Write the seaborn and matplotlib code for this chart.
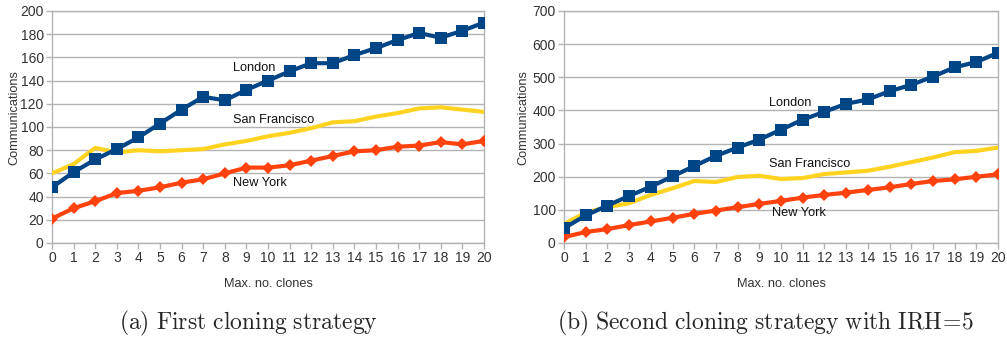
import numpy as np
import pandas as pd
import matplotlib
matplotlib.use("Agg")
import matplotlib.pyplot as plt
import seaborn as sns

clones = list(range(21))
x_ticks = [str(i) for i in clones]

london_a = [48, 61, 72, 81, 91, 103, 115, 126, 123, 132, 140, 148, 155, 155, 162, 168, 175, 181, 177, 183, 190]
sf_a = [60, 68, 82, 78, 80, 79, 80, 81, 85, 88, 92, 95, 99, 104, 105, 109, 112, 116, 117, 115, 113]
ny_a = [21, 30, 36, 43, 45, 48, 52, 55, 60, 65, 65, 67, 71, 75, 79, 80, 83, 84, 87, 85, 88]

london_b = [45, 83, 113, 142, 170, 201, 232, 263, 288, 312, 342, 372, 396, 420, 433, 458, 477, 502, 530, 546, 574]
sf_b = [57, 92, 108, 120, 145, 165, 187, 184, 199, 203, 193, 196, 208, 213, 218, 230, 244, 258, 274, 278, 288]
ny_b = [18, 33, 42, 54, 65, 76, 88, 98, 108, 118, 127, 137, 145, 152, 160, 168, 178, 187, 192, 200, 207]

captions = [r"$\mathrm{(a)\ First\ cloning\ strategy}$",
            r"$\mathrm{(b)\ Second\ cloning\ strategy\ with\ IRH\!=\!5}$"]
y_label = "Communications"
x_label = "Max. no. clones"

sns.set_theme(style="white")
plt.rcParams['font.family'] = ['Liberation Sans', 'DejaVu Sans']
plt.rcParams['mathtext.fontset'] = 'cm'

C_LON = "#004586"
C_SF = "#ffd320"
C_NY = "#ff420e"
GRID = "#b3b3b3"
TXT = "#333333"

W, H = 1007, 338
fig = plt.figure(figsize=(W/100, H/100), dpi=100)
axA = fig.add_axes([52/W, 1-243/H, (484-52)/W, (243-11)/H])
axB = fig.add_axes([564/W, 1-243/H, (998-564)/W, (243-11)/H])

def draw(ax, lon, sf, ny, ymax, ystep, labels, ylab_x):
    sns.lineplot(x=clones, y=sf, ax=ax, color=C_SF, lw=3, zorder=3)
    sns.lineplot(x=clones, y=ny, ax=ax, color=C_NY, lw=3, marker="D", markersize=6.5,
                 markeredgewidth=0, zorder=4)
    sns.lineplot(x=clones, y=lon, ax=ax, color=C_LON, lw=3, marker="s", markersize=9,
                 markeredgewidth=0, zorder=5)
    ax.set_xlim(0, 20)
    ax.set_ylim(0, ymax)
    ax.set_xticks(clones)
    ax.set_xticklabels(x_ticks)
    ax.set_yticks(np.arange(0, ymax + 1, ystep))
    ax.yaxis.grid(True, color=GRID, lw=1)
    ax.set_axisbelow(True)
    for s in ax.spines.values():
        s.set_color(GRID)
        s.set_linewidth(1)
    ax.tick_params(axis='both', which='major', length=4, width=1, color=GRID,
                   labelsize=10, labelcolor=TXT, direction='out', pad=2)
    ax.tick_params(axis='x', bottom=True)
    ax.tick_params(axis='y', left=True)
    ax.set_xlabel(x_label, fontsize=9.2, color=TXT, labelpad=9)
    ax.set_ylabel("")
    fig.text(ylab_x/W, 1-118/H, y_label, rotation=90, fontsize=9.2, color=TXT,
             ha='center', va='center')
    for (name, xx, yy) in labels:
        ax.text(xx, yy, name, fontsize=9.2, color="#111111", va='center', ha='left', zorder=6)

draw(axA, london_a, sf_a, ny_a, 200, 20,
     [("London", 8.4, 151), ("San Francisco", 8.4, 106), ("New York", 8.4, 52)], 14)
draw(axB, london_b, sf_b, ny_b, 700, 100,
     [("London", 9.45, 422), ("San Francisco", 9.45, 238), ("New York", 9.6, 90)], 523)

fig.text(248/W, 1-323/H, captions[0], ha='center', va='center', fontsize=17)
fig.text(765/W, 1-323/H, captions[1], ha='center', va='center', fontsize=17)

fig.savefig("out.png", dpi=100)
